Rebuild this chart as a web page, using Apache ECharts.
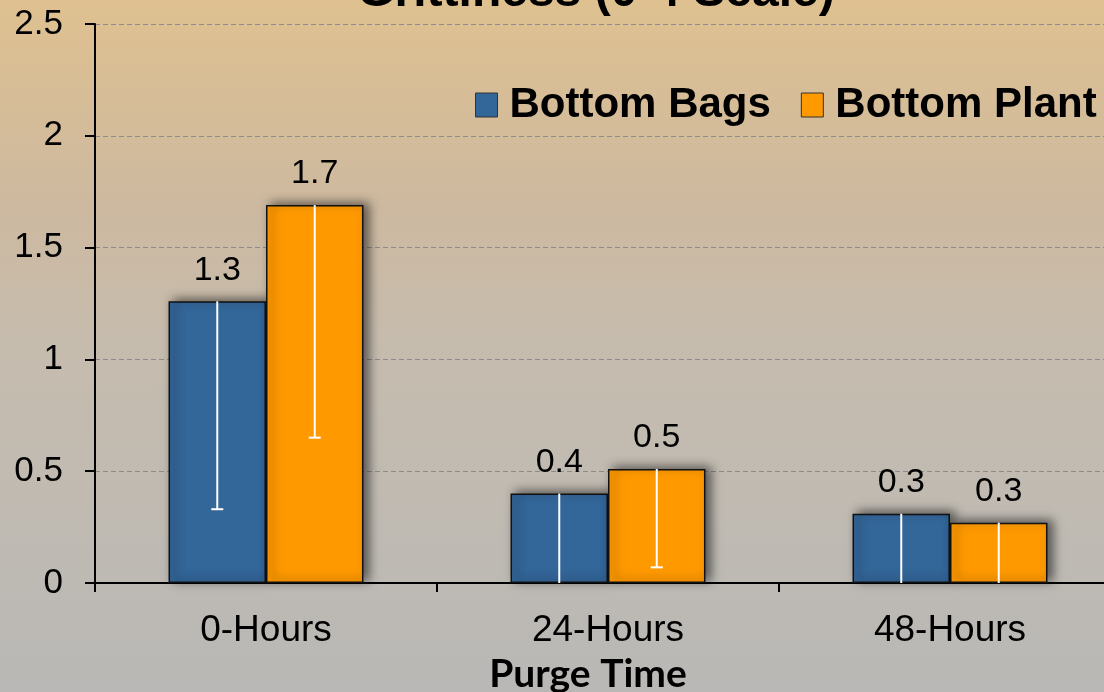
<!DOCTYPE html>
<html><head><meta charset="utf-8">
<script src="https://cdn.jsdelivr.net/npm/echarts@6/dist/echarts.min.js"></script>
<style>html,body{margin:0;padding:0;}#c{width:1104px;height:692px;}</style>
</head><body><div id="c"></div>
<script>
const categories = ['0-Hours', '24-Hours', '48-Hours'];
const seriesNames = ['Bottom Bags', 'Bottom Plant'];
const bagsValues = [1.26, 0.40, 0.31];
const plantValues = [1.69, 0.51, 0.27];
// lower end of the (minus-only) error bars
const bagsErrLow = [0.33, -0.1, -0.1];
const plantErrLow = [0.65, 0.07, -0.1];
const yTicks = [0, 0.5, 1, 1.5, 2, 2.5];

const chart = echarts.init(document.getElementById('c'));
const barFrac = 0.285;

function errSeries(name, vals, lows, sideSign) {
  return {
    type: 'custom', name: name + ' err', z: 10, silent: true,
    data: vals.map((v, i) => [i, v, lows[i]]),
    renderItem: function (params, api) {
      const i = api.value(0), hi = api.value(1), lo = api.value(2);
      const band = api.size([1, 0])[0];
      const top = api.coord([i, hi]);
      const x = top[0] + sideSign * band * barFrac / 2;
      const loC = api.coord([i, Math.max(lo, 0)]);
      const children = [{
        type: 'line', shape: { x1: x, y1: top[1], x2: x, y2: loC[1] },
        style: { stroke: '#ffffff', lineWidth: 2 }
      }];
      if (lo > 0) children.push({
        type: 'line', shape: { x1: x - 6, y1: loC[1], x2: x + 6, y2: loC[1] },
        style: { stroke: '#ffffff', lineWidth: 2 }
      });
      return { type: 'group', children: children };
    }
  };
}

const labelCfg = {
  show: true, position: 'top', distance: 14, color: '#000',
  fontFamily: 'Liberation Sans, Arial', fontSize: 34,
  formatter: p => p.value.toFixed(1)
};
const shadow = { shadowColor: 'rgba(0,0,0,0.55)', shadowBlur: 10, shadowOffsetX: 5, shadowOffsetY: -2 };

chart.setOption({
  backgroundColor: {
    type: 'linear', x: 0, y: 0, x2: 0, y2: 1,
    colorStops: [
      { offset: 0, color: '#dfc190' },
      { offset: 0.3, color: '#cdb9a0' },
      { offset: 0.5, color: '#c6bcae' },
      { offset: 1, color: '#b9b8b6' }
    ]
  },
  animation: false,
  title: {
    text: 'Grittiness (0-4 Scale)', left: 591, textAlign: 'center', top: -36,
    textStyle: { fontFamily: 'Liberation Sans, Arial', fontWeight: 'bold', fontSize: 48, color: '#000' }
  },
  legend: {
    data: seriesNames, left: 470, top: 79, width: 634, itemWidth: 22, itemHeight: 24, itemGap: 30,
    icon: 'rect',
    itemStyle: { borderColor: '#333', borderWidth: 1 },
    textStyle: { fontFamily: 'Liberation Sans, Arial', fontWeight: 'bold', fontSize: 42, color: '#000', padding: [0, 0, 0, 7] }
  },
  grid: { left: 95, top: 24, bottom: 109, width: 1026, containLabel: false, outerBoundsMode: 'none' },
  xAxis: {
    type: 'category', data: categories,
    name: 'Purge Time', nameLocation: 'middle', nameGap: 72,
    nameTextStyle: { fontFamily: 'Lato, Open Sans', fontWeight: 'bold', fontSize: 39, color: '#000', padding: [0, 40, 0, 0] },
    axisLine: { lineStyle: { color: '#000', width: 2 } },
    axisTick: { show: true, length: 9, lineStyle: { color: '#000', width: 2 } },
    axisLabel: { margin: 29, color: '#000', fontFamily: 'Liberation Sans, Arial', fontSize: 37 }
  },
  yAxis: {
    type: 'value', min: 0, max: 2.5, interval: 0.5,
    axisLine: { show: true, lineStyle: { color: '#000', width: 2 } },
    axisTick: { show: true, length: 10, lineStyle: { color: '#000', width: 2 } },
    axisLabel: { margin: 32, color: '#000', fontFamily: 'Liberation Sans, Arial', fontSize: 35,
      formatter: v => yTicks.includes(v) ? String(v) : '' },
    splitLine: { lineStyle: { color: '#8c8c8c', type: [5, 3], width: 1.2 } }
  },
  series: [
    { name: seriesNames[0], type: 'bar', data: bagsValues, barGap: '0%', barCategoryGap: '43%',
      itemStyle: Object.assign({ color: '#336699', borderColor: '#111', borderWidth: 1.5 }, shadow),
      label: labelCfg },
    { name: seriesNames[1], type: 'bar', data: plantValues, barGap: '0%', barCategoryGap: '43%',
      itemStyle: Object.assign({ color: '#ff9900', borderColor: '#111', borderWidth: 1.5 }, shadow),
      label: labelCfg },
    errSeries(seriesNames[0], bagsValues, bagsErrLow, -1),
    errSeries(seriesNames[1], plantValues, plantErrLow, 1)
  ]
});
</script></body></html>
